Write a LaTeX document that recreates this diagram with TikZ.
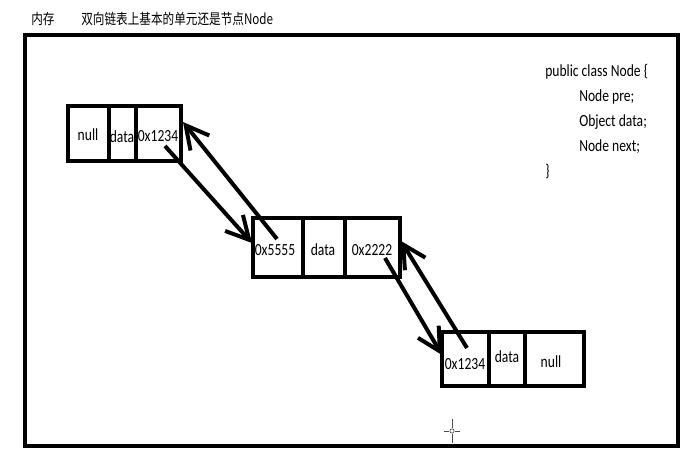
\documentclass[tikz,border=0pt]{standalone}
\usepackage{fontspec}
\setmainfont{Carlito}[FakeStretch=0.8]
\newfontfamily\cjk{Noto Sans CJK SC}[FakeStretch=0.8]
\usetikzlibrary{arrows.meta}
\begin{document}
\begin{tikzpicture}[x=0.75pt,y=-0.75pt,
  cell/.style={draw, line width=3.4pt, inner sep=0pt},
  txt/.style={font=\fontsize{12.75pt}{15pt}\selectfont, inner sep=0pt, anchor=base},
  codetxt/.style={txt, anchor=base west},
  ttl/.style={font=\cjk\fontsize{10.9pt}{13pt}\selectfont, inner sep=0pt, anchor=base west},
  ptr/.style={line width=3pt, -{Straight Barb[length=17pt, width=18pt]}}]
\useasboundingbox (0,0) rectangle (693,465);
% title
\node[ttl] (mem) at (31,24) {内存};
\node[ttl] (title) at (81,24) {双向链表上基本的单元还是节点Node};
% frame
\draw[line width=3.2pt] (25,35) rectangle (678,446);
% box 1
\node[cell, minimum width=41*0.75pt, minimum height=55*0.75pt] (c11) at (88.5,133.5) {};
\node[cell, minimum width=27*0.75pt, minimum height=55*0.75pt] (c12) at (122.5,133.5) {};
\node[cell, minimum width=45*0.75pt, minimum height=55*0.75pt] (c13) at (158.5,133.5) {};
\node[txt] (t11) at (88,140) {null};
\node[txt] (t12) at (122,142) {data};
\node[txt] (t13) at (158,141) {0x1234};
% box 2
\node[cell, minimum width=50*0.75pt, minimum height=59*0.75pt] (c21) at (278,247.5) {};
\node[cell, minimum width=42*0.75pt, minimum height=59*0.75pt] (c22) at (324,247.5) {};
\node[cell, minimum width=55*0.75pt, minimum height=59*0.75pt] (c23) at (372.5,247.5) {};
\node[txt] (t21) at (275,255) {0x5555};
\node[txt] (t22) at (323,255) {data};
\node[txt] (t23) at (372,255) {0x2222};
% box 3
\node[cell, minimum width=47*0.75pt, minimum height=54*0.75pt] (c31) at (465.5,359) {};
\node[cell, minimum width=36*0.75pt, minimum height=54*0.75pt] (c32) at (507,359) {};
\node[cell, minimum width=59*0.75pt, minimum height=54*0.75pt] (c33) at (554.5,359) {};
\node[txt] (t31) at (465,369) {0x1234};
\node[txt] (t32) at (507,362) {data};
\node[txt] (t33) at (551,367) {null};
% pointer end points
\coordinate (n1s) at (165,146);
\coordinate (n1e) at (252,243);
\coordinate (p1s) at (277,239);
\coordinate (p1e) at (183,122);
\coordinate (n2s) at (385,258);
\coordinate (n2e) at (442,355);
\coordinate (p2s) at (467,348);
\coordinate (p2e) at (401,241);
\draw[ptr] (n1s) -- (n1e);
\draw[ptr] (p1s) -- (p1e);
\draw[ptr] (n2s) -- (n2e);
\draw[ptr] (p2s) -- (p2e);
% code
\node[codetxt] (code1) at (545,76) {public class Node \{};
\node[codetxt] (code2) at (579,101) {Node pre;};
\node[codetxt] (code3) at (579,126) {Object data;};
\node[codetxt] (code4) at (579,151) {Node next;};
\node[codetxt] (code5) at (545,176) {\}};
% cursor
\coordinate (cur) at (452,431);
\draw[line width=0.7pt, black!70] ([yshift=-12*0.75pt]cur) -- ([yshift=-3*0.75pt]cur)
  ([yshift=3*0.75pt]cur) -- ([yshift=12*0.75pt]cur)
  ([xshift=-8*0.75pt]cur) -- ([xshift=-3*0.75pt]cur)
  ([xshift=3*0.75pt]cur) -- ([xshift=8*0.75pt]cur);
\draw[line width=0.5pt, black!70] (cur) circle[radius=1.6pt];
\end{tikzpicture}
\end{document}
